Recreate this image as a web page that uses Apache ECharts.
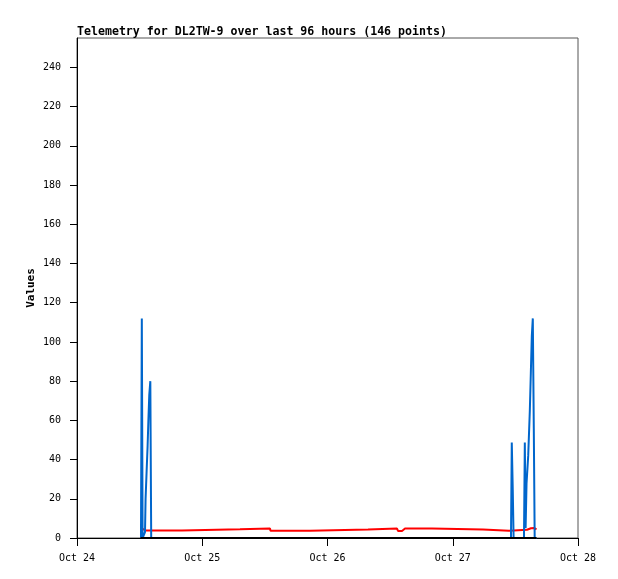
<!DOCTYPE html>
<html>
<head>
<meta charset="utf-8">
<script src="https://cdn.jsdelivr.net/npm/echarts@6/dist/echarts.min.js"></script>
<style>
html,body{margin:0;padding:0;background:#fff;}
#c{width:618px;height:579px;}
</style>
</head>
<body>
<div id="c"></div>
<script>
// Hours since Oct 24 00:00
const dayLabels = ["Oct 24", "Oct 25", "Oct 26", "Oct 27", "Oct 28"];
const yTicks = [0, 20, 40, 60, 80, 100, 120, 140, 160, 180, 200, 220, 240];

const redHours = [12.17, 12.65, 12.74, 13.13, 13.32, 13.51, 20.12, 20.22, 31.23, 31.33, 36.98, 37.08, 44.65, 44.74, 55.76, 55.86, 61.32, 61.51, 62.28, 62.47, 62.85, 68.02, 68.12, 77.80, 77.89, 82.78, 82.97, 86.23, 86.61, 86.99, 87.57, 88.05];
const redValues = [4.6, 4.6, 3.8, 3.8, 4.4, 3.8, 3.8, 4.4, 4.4, 4.8, 4.8, 3.7, 3.7, 4.3, 4.3, 4.8, 4.8, 3.6, 3.6, 4.4, 4.8, 4.8, 4.3, 4.3, 3.7, 3.7, 4.2, 4.2, 4.6, 5.0, 5.1, 4.4];

const blueHours = [12.26, 12.42, 12.57, 12.91, 13.03, 13.14, 13.34, 13.53, 13.68, 13.85, 14.05, 14.22, 83.16, 83.31, 83.50, 83.66, 85.65, 85.81, 85.96, 86.14, 86.46, 86.77, 86.96, 87.15, 87.34, 87.53, 87.70, 88.05];
const blueValues = [0, 112, 0, 0, 3, 20, 34, 47, 60, 73, 80, 0, 0, 48.7, 24.5, 0, 0, 48.7, 5, 28, 42, 65, 84, 103, 112, 56, 0, 0];

const blackHours = [12.17, 88.05];
const blackValues = [0, 0];

function pairs(h, v) { return h.map((x, i) => [x, v[i]]); }

const chart = echarts.init(document.getElementById('c'));
const mono = '"DejaVu Sans Mono", monospace';
chart.setOption({
  animation: false,
  backgroundColor: '#fff',
  title: {
    text: 'Telemetry for DL2TW-9 over last 96 hours (146 points)',
    left: 72, top: 21,
    textStyle: { fontFamily: mono, fontWeight: 'bold', fontSize: 11.6, color: '#000' }
  },
  grid: { left: 77, right: 40, top: 38, bottom: 41, show: true, borderColor: '#555', borderWidth: 1 },
  xAxis: {
    type: 'value', min: 0, max: 96, interval: 24,
    axisLine: { lineStyle: { color: '#000', width: 1 } },
    axisTick: { length: 8, inside: false, lineStyle: { color: '#000' } },
    axisLabel: { margin: 15, fontFamily: mono, fontSize: 10, color: '#000',
      formatter: v => dayLabels[Math.round(v / 24)] },
    splitLine: { show: false }
  },
  yAxis: {
    type: 'value', min: 0, max: 255,
    name: 'Values', nameLocation: 'middle', nameGap: 40, nameMoveOverlap: false,
    nameTextStyle: { fontFamily: mono, fontWeight: 'bold', fontSize: 11, color: '#000' },
    axisLine: { show: true, lineStyle: { color: '#000', width: 1 } },
    axisTick: { show: true, length: 7, customValues: yTicks, lineStyle: { color: '#000' } },
    axisLabel: { margin: 16, fontFamily: mono, fontSize: 10, color: '#000', customValues: yTicks },
    splitLine: { show: false }
  },
  series: [
    { type: 'line', data: pairs(redHours, redValues), showSymbol: false, lineStyle: { color: '#ff0000', width: 2 }, z: 2 },
    { type: 'line', data: pairs(blueHours, blueValues), showSymbol: false, lineStyle: { color: '#0066cc', width: 2 }, z: 3 },
    { type: 'line', data: pairs(blackHours, blackValues), showSymbol: false, lineStyle: { color: '#000', width: 2 }, z: 4 }
  ]
});
</script>
</body>
</html>
